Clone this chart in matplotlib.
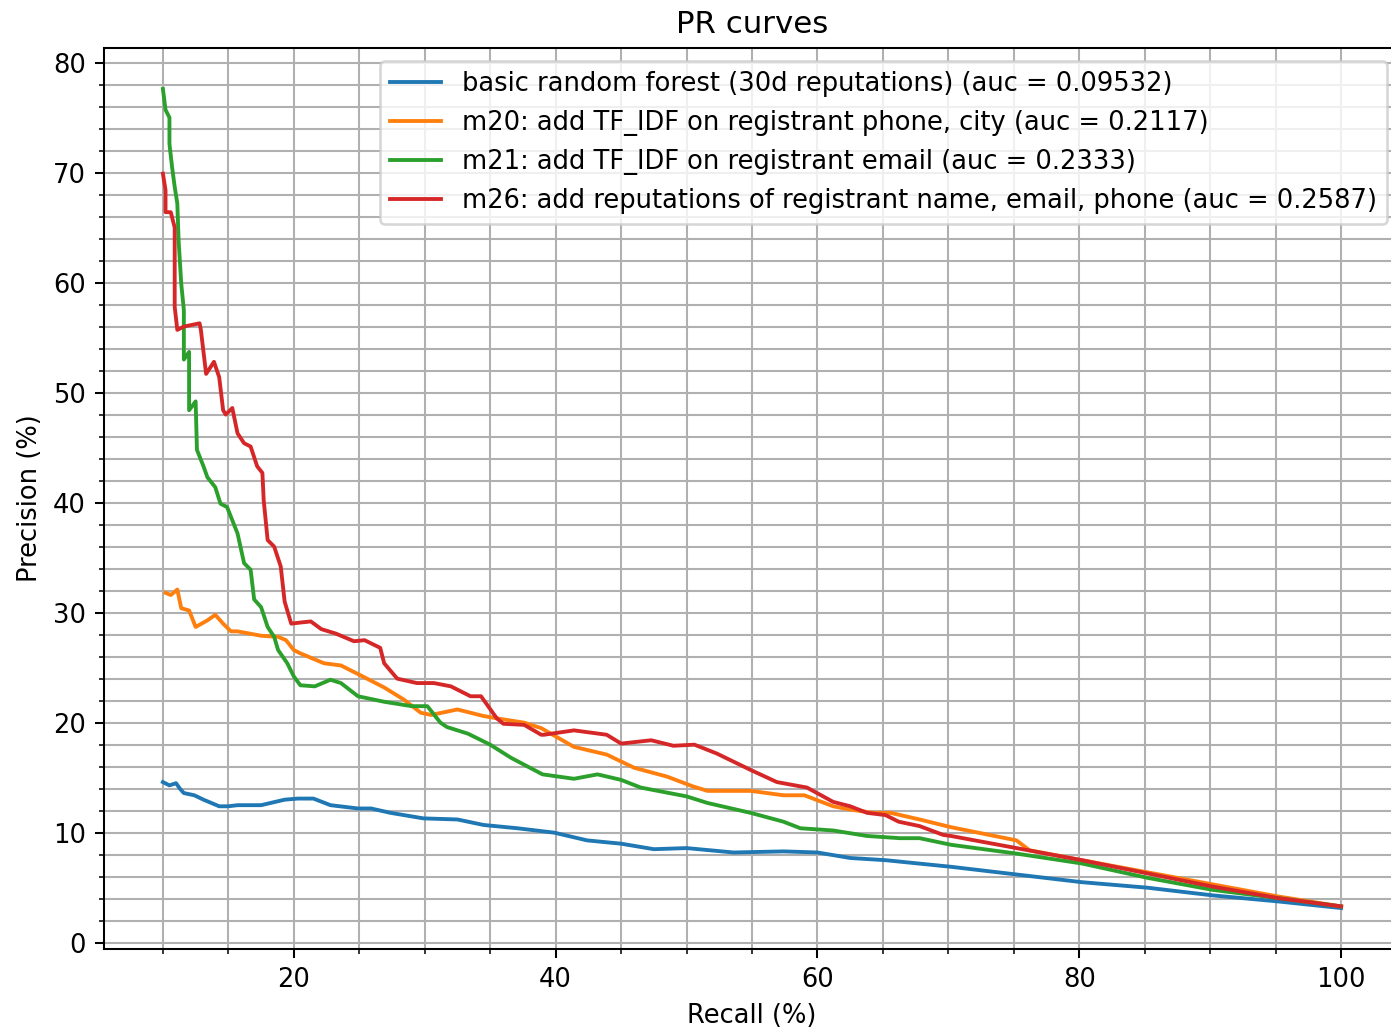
import numpy as np
import matplotlib
matplotlib.use('Agg')
import matplotlib.pyplot as plt
from matplotlib.ticker import MultipleLocator

# recall (%) / precision (%)
rf_recall = [10, 10.5, 11, 11.3, 11.6, 12.4, 13.1, 14.3, 15.0, 15.7, 17.5, 19.3, 20.3, 21.5, 22.8,
             24.9, 25.9, 27.4, 29.9, 32.5, 34.5, 37.1, 39.9, 42.4, 45, 47.5, 50, 53.6, 57.4, 60,
             62.5, 65.2, 70.2, 75.2, 80.2, 85.2, 90.2, 95.2, 100]
rf_prec = [14.6, 14.3, 14.5, 14.0, 13.6, 13.4, 13.0, 12.4, 12.4, 12.5, 12.5, 13.0, 13.1, 13.1, 12.5,
           12.2, 12.2, 11.8, 11.3, 11.2, 10.7, 10.4, 10.0, 9.3, 9.0, 8.5, 8.6, 8.2, 8.3, 8.2,
           7.7, 7.5, 6.9, 6.2, 5.5, 5.0, 4.3, 3.75, 3.15]

m20_recall = [10.2, 10.6, 11.1, 11.4, 12.0, 12.5, 13.4, 14.0, 14.6, 15.2, 15.7, 17.5, 18.8, 19.4,
              20.0, 20.5, 22.3, 23.6, 25.1, 26.9, 28.4, 29.7, 30.5, 32.5, 34.5, 36.0, 37.6, 38.9,
              41.4, 43.9, 46.0, 48.5, 50.5, 51.6, 54.9, 57.4, 59.0, 61.2, 62.5, 64.3, 65.6, 67.8,
              70.2, 75.2, 76.2, 80.2, 85.2, 90.2, 95.2, 100]
m20_prec = [31.8, 31.6, 32.1, 30.4, 30.2, 28.7, 29.3, 29.8, 29.0, 28.3, 28.3, 27.9, 27.8, 27.5,
            26.6, 26.3, 25.4, 25.2, 24.3, 23.2, 22.1, 20.9, 20.7, 21.2, 20.6, 20.3, 20.0, 19.5,
            17.8, 17.1, 15.9, 15.1, 14.2, 13.8, 13.8, 13.4, 13.4, 12.4, 12.1, 11.8, 11.8, 11.2,
            10.5, 9.3, 8.4, 7.5, 6.4, 5.3, 4.2, 3.3]

m21_recall = [10.0, 10.2, 10.5, 10.5, 10.7, 10.9, 11.1, 11.2, 11.4, 11.6, 11.6, 12.0, 12.0, 12.5,
              12.6, 13.1, 13.4, 14.0, 14.4, 14.9, 15.7, 16.2, 16.7, 16.97, 17.5, 18.0, 18.5, 18.8,
              19.5, 20.0, 20.5, 21.6, 22.8, 23.6, 24.9, 26.9, 29.0, 30.2, 31.2, 31.7, 33.3, 35.0,
              36.6, 39.0, 41.4, 43.2, 45.0, 46.5, 50.0, 51.6, 54.9, 57.4, 58.7, 61.2, 63.8, 66.3,
              67.8, 70.2, 75.2, 80.2, 85.2, 90.2, 95.2, 100]
m21_prec = [77.6, 75.7, 75.0, 72.6, 70.5, 68.7, 67.2, 63.8, 59.9, 57.5, 53.0, 53.7, 48.4, 49.2,
            44.8, 43.3, 42.3, 41.4, 39.9, 39.6, 37.2, 34.5, 33.9, 31.2, 30.5, 28.7, 27.8, 26.6,
            25.4, 24.2, 23.4, 23.3, 23.9, 23.6, 22.4, 21.9, 21.5, 21.5, 20.0, 19.6, 19.0, 18.0,
            16.8, 15.3, 14.9, 15.3, 14.8, 14.1, 13.3, 12.7, 11.8, 11.0, 10.4, 10.2, 9.7, 9.5,
            9.5, 8.9, 8.1, 7.2, 5.9, 4.8, 4.05, 3.3]

m26_recall = [10.0, 10.2, 10.2, 10.6, 10.9, 10.9, 11.1, 11.6, 12.8, 12.9, 13.3, 13.9, 14.3, 14.6,
              14.8, 15.3, 15.7, 16.2, 16.7, 17.2, 17.6, 17.7, 18.0, 18.5, 19.0, 19.3, 19.8, 20.5,
              21.3, 22.1, 23.2, 24.6, 25.4, 26.6, 26.9, 27.9, 29.4, 30.7, 32.0, 33.5, 34.3, 35.5,
              36.0, 37.6, 38.9, 39.1, 41.4, 43.9, 45.0, 47.3, 49.0, 50.6, 52.3, 54.9, 56.9, 59.2,
              61.2, 62.5, 63.8, 65.2, 66.2, 67.8, 69.6, 70.2, 75.2, 80.2, 85.2, 90.2, 95.2, 100]
m26_prec = [69.9, 68.4, 66.4, 66.4, 65.0, 57.8, 55.7, 56.0, 56.3, 55.7, 51.7, 52.8, 51.4, 48.4,
            48.0, 48.6, 46.3, 45.4, 45.1, 43.3, 42.7, 40.2, 36.6, 36.0, 34.2, 31.0, 29.0, 29.1,
            29.2, 28.5, 28.1, 27.4, 27.5, 26.8, 25.4, 24.0, 23.6, 23.6, 23.3, 22.4, 22.4, 20.4,
            19.9, 19.8, 18.9, 18.9, 19.3, 18.9, 18.1, 18.4, 17.9, 18.0, 17.2, 15.7, 14.6, 14.1,
            12.8, 12.4, 11.8, 11.6, 11.0, 10.6, 9.8, 9.7, 8.6, 7.5, 6.3, 5.1, 4.05, 3.3]

labels = ['basic random forest (30d reputations) (auc = 0.09532)',
          'm20: add TF_IDF on registrant phone, city (auc = 0.2117)',
          'm21: add TF_IDF on registrant email (auc = 0.2333)',
          'm26: add reputations of registrant name, email, phone (auc = 0.2587)']

dpi = 185
fig = plt.figure(figsize=(1391 / dpi, 1029 / dpi), dpi=dpi)
ax = fig.add_axes([104 / 1391, 1 - 949 / 1029, (1400 - 104) / 1391, (949 - 48) / 1029])

ax.plot(rf_recall, rf_prec, label=labels[0])
ax.plot(m20_recall, m20_prec, label=labels[1])
ax.plot(m21_recall, m21_prec, label=labels[2])
ax.plot(m26_recall, m26_prec, label=labels[3])

ax.xaxis.set_minor_locator(MultipleLocator(5))
ax.yaxis.set_minor_locator(MultipleLocator(2))
ax.grid(which='both')
ax.set_title('PR curves')
ax.set_xlabel('Recall (%)')
ax.set_ylabel('Precision (%)')
ax.legend(loc='upper right')

fig.savefig('out.png', dpi=dpi)
